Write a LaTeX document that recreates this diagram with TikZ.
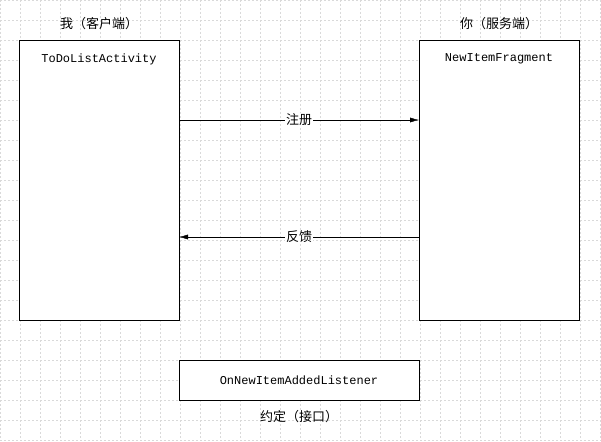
\documentclass[tikz,border=0pt]{standalone}
\usepackage{fontspec}
\setmonofont{Liberation Mono}
\newfontfamily\cjk{Noto Sans CJK SC}
\usetikzlibrary{positioning, arrows.meta}
\tikzset{
  party/.style={draw, minimum width=160pt, minimum height=280pt, inner sep=0pt},
  contract/.style={draw, minimum width=240pt, minimum height=40pt, inner sep=0pt, font=\ttfamily\fontsize{12}{14}\selectfont},
  title/.style={font=\ttfamily\fontsize{12}{14}\selectfont},
  cjklabel/.style={font=\cjk\fontsize{13}{15}\selectfont},
  msg/.style={-{Latex[length=9pt, width=5pt]}}
}
\begin{document}
\begin{tikzpicture}[x=1pt, y=-1pt]
\useasboundingbox (0,0) rectangle (601,441);
% Draw background grid
\foreach \gx in {0,20,...,600}
  \draw[gray!30, dash pattern=on 2pt off 2pt, line width=0.4pt] (\gx,0) -- (\gx,441);
\foreach \gy in {0,20,...,440}
  \draw[gray!30, dash pattern=on 2pt off 2pt, line width=0.4pt] (0,\gy) -- (601,\gy);

% Parties
\node[party, fill=white] (client) at (99,180) {};
\node[party, fill=white] (server) at (499,180) {};
\node[title, below=10pt of client.north] (clientname) {ToDoListActivity};
\node[title, below=10pt of server.north] (servername) {NewItemFragment};
\node[cjklabel, above=7pt of client.north] (clientlabel) {我（客户端）};
\node[cjklabel, above=7pt of server.north] (serverlabel) {你（服务端）};

% Contract
\node[contract, fill=white] (iface) at (299,380) {OnNewItemAddedListener};
\node[cjklabel, below=7pt of iface] (ifacelabel) {约定（接口）};

% Messages
\coordinate (regL) at (179,120);
\coordinate (regR) at (419,120);
\coordinate (fbL) at (179,237);
\coordinate (fbR) at (419,237);
\draw[msg] (regL) -- node[cjklabel, fill=white, inner sep=1pt] (reg) {注册} (regR);
\draw[msg] (fbR) -- node[cjklabel, fill=white, inner sep=1pt] (fb) {反馈} (fbL);
\end{tikzpicture}
\end{document}
